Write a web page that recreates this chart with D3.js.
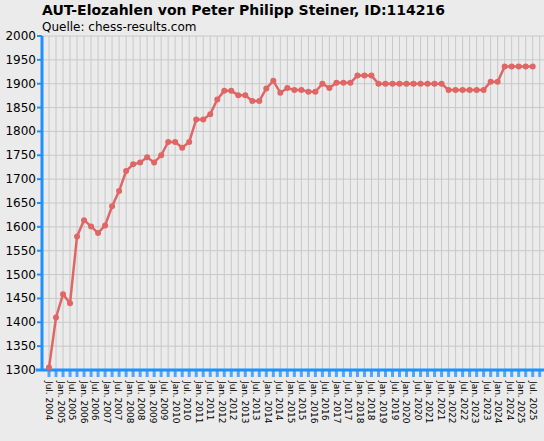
<!DOCTYPE html>
<html>
<head>
<meta charset="utf-8">
<style>
  body { margin: 0; background: #ebebeb; }
  text { font-family: "DejaVu Sans", sans-serif; }
</style>
</head>
<body>
<script src="https://d3js.org/d3.v7.min.js"></script>
<script>
const elo = [1305, 1410, 1459, 1440, 1580, 1614, 1601, 1587, 1603, 1643, 1675, 1717,
  1731, 1735, 1746, 1735, 1750, 1778, 1778, 1766, 1778, 1825, 1825, 1836, 1867, 1885,
  1885, 1876, 1876, 1864, 1864, 1890, 1906, 1881, 1891, 1887, 1887, 1883, 1883, 1900,
  1891, 1902, 1902, 1902, 1917, 1917, 1917, 1900, 1900, 1900, 1900, 1900, 1900, 1900,
  1900, 1900, 1900, 1887, 1887, 1887, 1887, 1887, 1887, 1904, 1904, 1936, 1936, 1936,
  1936, 1936];
const yTicks = [1300, 1350, 1400, 1450, 1500, 1550, 1600, 1650, 1700, 1750, 1800,
  1850, 1900, 1950, 2000];
const xLabels = ["Jul. 2004", "Jan. 2005", "Jul. 2005", "Jan. 2006", "Jul. 2006",
  "Jan. 2007", "Jul. 2007", "Jan. 2008", "Jul. 2008", "Jan. 2009", "Jul. 2009",
  "Jan. 2010", "Jul. 2010", "Jan. 2011", "Jul. 2011", "Jan. 2012", "Jul. 2012",
  "Jan. 2013", "Jul. 2013", "Jan. 2014", "Jul. 2014", "Jan. 2015", "Jul. 2015",
  "Jan. 2016", "Jul. 2016", "Jan. 2017", "Jul. 2017", "Jan. 2018", "Jul. 2018",
  "Jan. 2019", "Jul. 2019", "Jan. 2020", "Jul. 2020", "Jan. 2021", "Jul. 2021",
  "Jan. 2022", "Jul. 2022", "Jan. 2023", "Jul. 2023", "Jan. 2024", "Jul. 2024",
  "Jan. 2025", "Jul. 2025"];

const width = 544, height = 441;
const pLeft = 42, pRight = 544, pTop = 36, pBottom = 370;

const svg = d3.select("body").append("svg")
  .attr("width", width).attr("height", height);

svg.append("rect").attr("width", width).attr("height", height).attr("fill", "#ebebeb");

const x = d3.scaleLinear().domain([0, elo.length - 1]).range([49, 532.7]);
const y = d3.scaleLinear().domain([1300, 2000]).range([pBottom, pTop]);

// grid
svg.append("g").selectAll("line").data(d3.range(elo.length + 1)).join("line")
  .attr("x1", d => x(d)).attr("x2", d => x(d))
  .attr("y1", pTop).attr("y2", pBottom)
  .attr("stroke", "#c8c8c8").attr("stroke-width", 1);
svg.append("g").selectAll("line").data(yTicks).join("line")
  .attr("x1", pLeft).attr("x2", pRight)
  .attr("y1", d => y(d)).attr("y2", d => y(d))
  .attr("stroke", "#c8c8c8").attr("stroke-width", 1);

// y axis
svg.append("line").attr("x1", pLeft).attr("x2", pLeft).attr("y1", pTop).attr("y2", pBottom)
  .attr("stroke", "#1e90ff").attr("stroke-width", 3);
svg.append("g").selectAll("line").data(yTicks).join("line")
  .attr("x1", pLeft - 5).attr("x2", pLeft).attr("y1", d => y(d)).attr("y2", d => y(d))
  .attr("stroke", "#1e90ff").attr("stroke-width", 2);
svg.append("g").selectAll("text").data(yTicks).join("text")
  .attr("x", pLeft - 6).attr("y", d => y(d) + 4)
  .attr("text-anchor", "end").attr("font-size", 12).attr("fill", "#000")
  .text(d => d);

// x axis
svg.append("line").attr("x1", pLeft - 6).attr("x2", pRight).attr("y1", pBottom).attr("y2", pBottom)
  .attr("stroke", "#1e90ff").attr("stroke-width", 3);
svg.append("g").selectAll("line").data(d3.range(elo.length + 1)).join("line")
  .attr("x1", d => x(d)).attr("x2", d => x(d)).attr("y1", pBottom).attr("y2", pBottom + 7)
  .attr("stroke", "#1e90ff").attr("stroke-width", 3).attr("opacity", 0.75);

const xl = d3.scaleLinear().domain([0, xLabels.length - 1]).range([49, 532.7]);
svg.append("g").selectAll("text").data(xLabels).join("text")
  .attr("transform", (d, i) => `translate(${xl(i) - 3},${pBottom + 11}) rotate(90)`)
  .attr("font-size", 9).attr("fill", "#000")
  .text(d => d);

// line + markers
svg.append("path").datum(elo)
  .attr("fill", "none").attr("stroke", "#e06666").attr("stroke-width", 2.5)
  .attr("d", d3.line().x((d, i) => x(i)).y(d => y(d)));
svg.append("g").selectAll("circle").data(elo).join("circle")
  .attr("cx", (d, i) => x(i)).attr("cy", d => y(d)).attr("r", 3)
  .attr("fill", "#e06666");

// titles
svg.append("text").attr("x", 42).attr("y", 15)
  .attr("font-size", 14).attr("font-weight", "bold")
  .text("AUT-Elozahlen von Peter Philipp Steiner, ID:114216");
svg.append("text").attr("x", 42).attr("y", 31).attr("font-size", 12)
  .text("Quelle: chess-results.com");
</script>
</body>
</html>
